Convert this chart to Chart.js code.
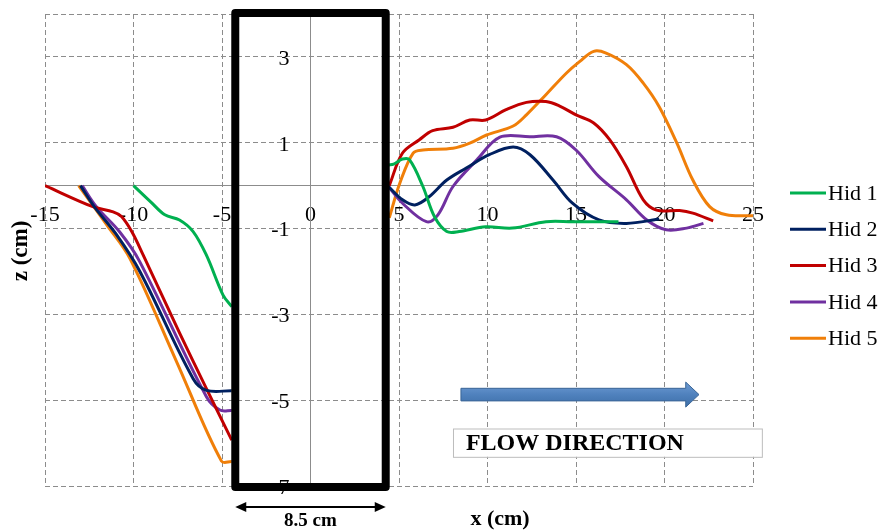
<!DOCTYPE html>
<html>
<head>
<meta charset="utf-8">
<title>Scour profiles around the pier</title>
<script src="https://cdn.jsdelivr.net/npm/chart.js@4.4.1/dist/chart.umd.min.js"></script>
<style>
  html, body { margin: 0; padding: 0; background: #fff; }
  #wrap { width: 883px; height: 531px; }
</style>
</head>
<body>
<div id="wrap"><canvas id="profiles" width="883" height="531"></canvas></div>
<script>
  // axis ticks
  const xTicks = [-15, -10, -5, 0, 5, 10, 15, 20, 25];
  const zTicks = [-7, -5, -3, -1, 1, 3, 4];
  const zTickLabels = ["-7", "-5", "-3", "-1", "1", "3", ""];

  const seriesNames = ["Hid 1", "Hid 2", "Hid 3", "Hid 4", "Hid 5"];
  const seriesColors = ["#00B050", "#002060", "#C00000", "#7030A0", "#F07F09"];

  // profiles, the null splits upstream and downstream of the pier
  const hid1X = [-10, -9, -8.23, -7.4, -6.63, -5.88, -4.94, -4.45, null,
    4.4, 4.7, 5.2, 5.6, 6.35, 7.0, 7.7, 8.4, 9.9, 11.4, 13.3, 14.8, 17.4];
  const hid1Z = [0, -0.39, -0.68, -0.8, -1.07, -1.62, -2.55, -2.82, null,
    0.48, 0.5, 0.62, 0.6, -0.02, -0.72, -1.07, -1.07, -0.96, -0.99, -0.84, -0.84, -0.84];

  const hid2X = [-13, -12.2, -11, -9.64, -6.63, -5.88, -4.45, null,
    4.4, 5.2, 5.9, 6.7, 7.7, 8.8, 10.1, 11.45, 12.4, 13.7, 14.8, 16.3, 17.85, 19.7];
  const hid2Z = [0, -0.5, -1.12, -2.0, -4.5, -4.77, -4.78, null,
    -0.02, -0.33, -0.45, -0.26, 0.13, 0.41, 0.72, 0.9, 0.72, 0.13, -0.41, -0.8, -0.88, -0.78];

  const hid3X = [-15, -12.3, -11.15, -10.68, -10.1, -9.45, -7.38, -5.88, -4.45, null,
    4.45, 5.2, 6.15, 6.9, 8.05, 9.0, 9.9, 11.05, 12.2, 13.3, 14.05, 15.0, 16.0, 16.9,
    17.85, 18.8, 19.55, 20.85, 21.6, 22.75];
  const hid3Z = [0, -0.49, -0.61, -0.72, -1.07, -1.62, -3.45, -4.73, -5.93, null,
    0, 0.76, 1.07, 1.28, 1.36, 1.53, 1.53, 1.77, 1.94, 1.96, 1.86, 1.65, 1.46, 1.07,
    0.44, -0.33, -0.57, -0.58, -0.64, -0.82];

  const hid4X = [-12.9, -12.1, -10.8, -9.65, -5.88, -5.12, -4.45, null,
    4.4, 5.2, 6.55, 7.2, 8.05, 9.4, 10.7, 12.4, 13.9, 15.0, 16.3, 17.85, 19.0, 20.1, 21.25, 22.2];
  const hid4Z = [0, -0.49, -1.07, -1.77, -4.92, -5.23, -5.24, null,
    -0.02, -0.41, -0.84, -0.68, -0.02, 0.6, 1.13, 1.14, 1.14, 0.83, 0.21, -0.33, -0.8, -1.03, -0.99, -0.88];

  const hid5X = [-13.1, -11.5, -10.2, -7.6, -5.03, -4.45, null,
    4.45, 5.05, 5.8, 6.35, 8.05, 9.0, 9.95, 11.45, 12.2, 13.3, 14.45, 15.2, 16.0, 16.7,
    17.85, 18.8, 19.7, 20.7, 21.6, 22.55, 23.5, 25];
  const hid5Z = [0, -0.92, -1.7, -4.07, -6.42, -6.43, null,
    -0.75, 0.06, 0.76, 0.83, 0.87, 0.99, 1.18, 1.39, 1.65, 2.12, 2.62, 2.89, 3.13, 3.09,
    2.82, 2.39, 1.84, 0.99, 0.13, -0.49, -0.68, -0.7];

  const pierWidth = 8.5;

  const allX = [hid1X, hid2X, hid3X, hid4X, hid5X];
  const allZ = [hid1Z, hid2Z, hid3Z, hid4Z, hid5Z];

  const serif = "'Times New Roman', 'Liberation Serif', serif";

  const datasets = seriesNames.map((name, i) => ({
    label: name,
    data: allX[i].map((x, j) => ({ x: x, y: allZ[i][j] })),
    showLine: true,
    borderColor: seriesColors[i],
    backgroundColor: seriesColors[i],
    borderWidth: 3,
    pointRadius: 0,
    tension: 0.35,
    spanGaps: false,
  }));

  // pier box, dimension arrow, flow arrow, titles and legend
  const extras = {
    id: "extras",
    beforeDatasetsDraw(chart) {
      // z labels sit left of the z axis, inside the pier
      const ctx = chart.ctx;
      const x0 = chart.scales.x.getPixelForValue(0);
      ctx.save();
      ctx.font = "22px " + serif;
      ctx.fillStyle = "#000";
      ctx.textAlign = "right";
      ctx.textBaseline = "middle";
      zTicks.forEach((v, i) => {
        ctx.fillText(zTickLabels[i], x0 - 21, chart.scales.y.getPixelForValue(v) + 2);
      });
      ctx.restore();
    },
    afterDraw(chart) {
      const ctx = chart.ctx;
      const xs = chart.scales.x;
      const ys = chart.scales.y;
      ctx.save();

      // pier
      const l = xs.getPixelForValue(-pierWidth / 2);
      const r = xs.getPixelForValue(pierWidth / 2);
      const t = ys.getPixelForValue(4) - 1;
      const b = ys.getPixelForValue(-7) + 1;
      ctx.strokeStyle = "#000";
      ctx.lineWidth = 8;
      ctx.lineJoin = "round";
      ctx.strokeRect(l, t, r - l, b - t);

      // 8.5 cm dimension
      const ay = b + 20;
      ctx.lineWidth = 2;
      ctx.beginPath();
      ctx.moveTo(l + 6, ay);
      ctx.lineTo(r - 6, ay);
      ctx.stroke();
      ctx.fillStyle = "#000";
      ctx.beginPath();
      ctx.moveTo(l, ay); ctx.lineTo(l + 11, ay - 5); ctx.lineTo(l + 11, ay + 5); ctx.closePath();
      ctx.fill();
      ctx.beginPath();
      ctx.moveTo(r, ay); ctx.lineTo(r - 11, ay - 5); ctx.lineTo(r - 11, ay + 5); ctx.closePath();
      ctx.fill();
      ctx.font = "bold 19px " + serif;
      ctx.textAlign = "center";
      ctx.textBaseline = "middle";
      ctx.fillText(pierWidth + " cm", (l + r) / 2, ay + 14);

      // axis titles
      ctx.font = "bold 22px " + serif;
      ctx.fillText("x (cm)", 500, 519);
      ctx.save();
      ctx.translate(21, 251);
      ctx.rotate(-Math.PI / 2);
      ctx.font = "bold 23px " + serif;
      ctx.fillText("z (cm)", 0, 0);
      ctx.restore();

      // flow direction arrow
      const fx0 = xs.getPixelForValue(8.5);
      const fxh = xs.getPixelForValue(21.2);
      const fx1 = xs.getPixelForValue(21.95);
      const fy = ys.getPixelForValue(-4.87);
      const grad = ctx.createLinearGradient(0, fy - 12, 0, fy + 12);
      grad.addColorStop(0, "#6E9BD3");
      grad.addColorStop(0.5, "#4F81BD");
      grad.addColorStop(1, "#3F6FA8");
      ctx.fillStyle = grad;
      ctx.strokeStyle = "#3A6596";
      ctx.lineWidth = 1;
      ctx.lineJoin = "miter";
      ctx.beginPath();
      ctx.moveTo(fx0, fy - 6.3);
      ctx.lineTo(fxh, fy - 6.3);
      ctx.lineTo(fxh, fy - 12.5);
      ctx.lineTo(fx1, fy);
      ctx.lineTo(fxh, fy + 12.5);
      ctx.lineTo(fxh, fy + 6.3);
      ctx.lineTo(fx0, fy + 6.3);
      ctx.closePath();
      ctx.fill();
      ctx.stroke();

      // flow direction label box
      const bx0 = xs.getPixelForValue(8.05);
      const bx1 = xs.getPixelForValue(25.5);
      const by0 = ys.getPixelForValue(-5.66);
      const by1 = ys.getPixelForValue(-6.32);
      ctx.fillStyle = "#fff";
      ctx.fillRect(bx0, by0, bx1 - bx0, by1 - by0);
      ctx.strokeStyle = "#BDBDBD";
      ctx.strokeRect(bx0 + 0.5, by0 + 0.5, bx1 - bx0, by1 - by0);
      ctx.fillStyle = "#000";
      ctx.font = "bold 24px " + serif;
      ctx.textAlign = "left";
      ctx.textBaseline = "middle";
      ctx.fillText("FLOW DIRECTION", xs.getPixelForValue(8.78), (by0 + by1) / 2 + 1);

      // legend
      const lx = chart.chartArea.right + 37;
      ctx.font = "22px " + serif;
      seriesNames.forEach((name, i) => {
        const ly = 193 + i * 36.3;
        ctx.strokeStyle = seriesColors[i];
        ctx.lineWidth = 3;
        ctx.beginPath();
        ctx.moveTo(lx, ly);
        ctx.lineTo(lx + 36, ly);
        ctx.stroke();
        ctx.fillStyle = "#000";
        ctx.fillText(name, lx + 38, ly + 1);
      });

      ctx.restore();
    },
  };

  const gridColor = "#8C8C8C";

  new Chart(document.getElementById("profiles"), {
    type: "scatter",
    data: { datasets: datasets },
    options: {
      responsive: false,
      animation: false,
      layout: { autoPadding: false, padding: { left: 45, right: 130, top: 14, bottom: 45 } },
      plugins: { legend: { display: false }, tooltip: { enabled: false } },
      scales: {
        x: {
          type: "linear",
          position: { y: 0 },
          min: -15,
          max: 25,
          afterBuildTicks: (s) => { s.ticks = xTicks.map((v) => ({ value: v })); },
          ticks: {
            autoSkip: false,
            maxRotation: 0,
            padding: 16,
            color: "#000",
            font: { family: serif, size: 22 },
          },
          grid: { color: gridColor, lineWidth: 1, drawTicks: false },
          border: { display: true, color: gridColor, width: 1, dash: [5, 3] },
        },
        y: {
          type: "linear",
          position: { x: 0 },
          min: -7,
          max: 4,
          afterBuildTicks: (s) => { s.ticks = zTicks.map((v) => ({ value: v })); },
          ticks: { display: false },
          grid: { color: gridColor, lineWidth: 1, drawTicks: false },
          border: { display: true, color: gridColor, width: 1, dash: [5, 3] },
        },
      },
    },
    plugins: [extras],
  });
</script>
</body>
</html>
